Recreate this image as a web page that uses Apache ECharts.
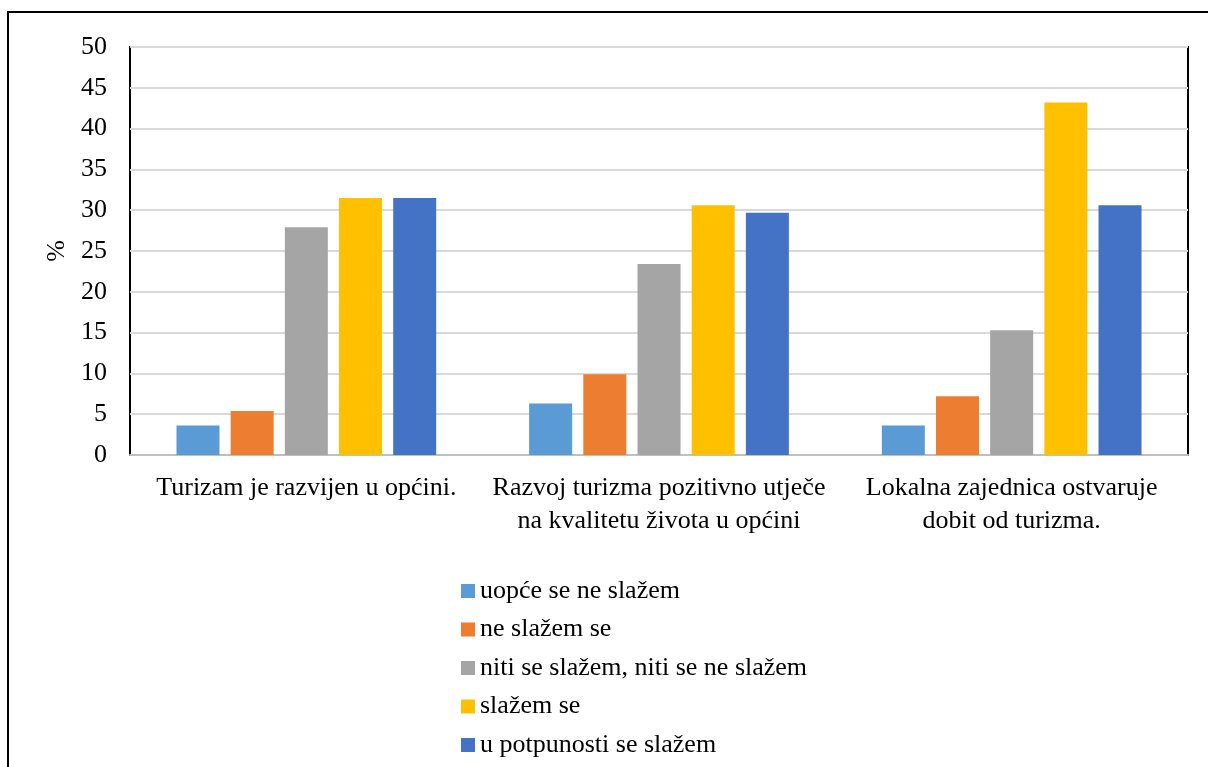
<!DOCTYPE html>
<html>
<head>
<meta charset="utf-8">
<script src="https://cdn.jsdelivr.net/npm/echarts@6/dist/echarts.min.js"></script>
<style>
html,body{margin:0;padding:0;background:#fff;}
#chart{width:1208px;height:767px;}
</style>
</head>
<body>
<div id="chart"></div>
<script>
var categories = [
  "Turizam je razvijen u općini.",
  "Razvoj turizma pozitivno utječe\nna kvalitetu života u općini",
  "Lokalna zajednica ostvaruje\ndobit od turizma."
];
var seriesNames = [
  "uopće se ne slažem",
  "ne slažem se",
  "niti se slažem, niti se ne slažem",
  "slažem se",
  "u potpunosti se slažem"
];
var uopceSeNeSlazem = [3.6, 6.3, 3.6];
var neSlazemSe = [5.4, 9.9, 7.2];
var nitiNiti = [27.9, 23.4, 15.3];
var slazemSe = [31.5, 30.6, 43.2];
var uPotpunosti = [31.5, 29.7, 30.6];
var yTicks = [0, 5, 10, 15, 20, 25, 30, 35, 40, 45, 50];

var colors = ["#5B9BD5", "#ED7D31", "#A5A5A5", "#FFC000", "#4472C4"];
var values = [uopceSeNeSlazem, neSlazemSe, nitiNiti, slazemSe, uPotpunosti];
var FONT = "'Liberation Serif', 'Times New Roman', serif";

var chart = echarts.init(document.getElementById('chart'), null, {renderer: 'canvas'});
var series = seriesNames.map(function (name, i) {
  return {
    name: name,
    type: 'bar',
    data: values[i],
    barWidth: 43,
    barGap: '26%',
    itemStyle: {color: colors[i]},
    emphasis: {disabled: true}
  };
});

chart.setOption({
  animation: false,
  color: colors,
  graphic: [{
    type: 'rect',
    shape: {x: 8, y: 12, width: 1230, height: 800},
    style: {fill: 'none', stroke: '#000', lineWidth: 2},
    silent: true
  }],
  grid: {
    left: 130, top: 47, right: 20, bottom: 312,
    show: true, borderColor: '#000', borderWidth: 2, backgroundColor: 'transparent'
  },
  legend: {
    orient: 'vertical',
    left: 456, top: 573,
    icon: 'rect',
    itemWidth: 14, itemHeight: 14,
    itemGap: 12.5,
    data: seriesNames,
    textStyle: {fontFamily: FONT, fontSize: 26, color: '#000', lineHeight: 26}
  },
  xAxis: {
    type: 'category',
    data: categories,
    axisLine: {show: true, lineStyle: {color: '#BFBFBF', width: 2}},
    axisTick: {show: false},
    axisLabel: {fontFamily: FONT, fontSize: 26, color: '#000', lineHeight: 33, margin: 17, interval: 0}
  },
  yAxis: {
    type: 'value',
    min: 0, max: 50, interval: 5,
    name: '%',
    nameLocation: 'middle',
    nameGap: 57,
    nameTextStyle: {fontFamily: FONT, fontSize: 26, color: '#000'},
    axisLine: {show: false},
    axisTick: {show: false},
    splitLine: {lineStyle: {color: '#D9D9D9', width: 2}},
    axisLabel: {fontFamily: FONT, fontSize: 26, color: '#000', margin: 23,
      formatter: function (v) { return yTicks.indexOf(v) >= 0 ? String(v) : ''; }}
  },
  series: series
});
</script>
</body>
</html>
